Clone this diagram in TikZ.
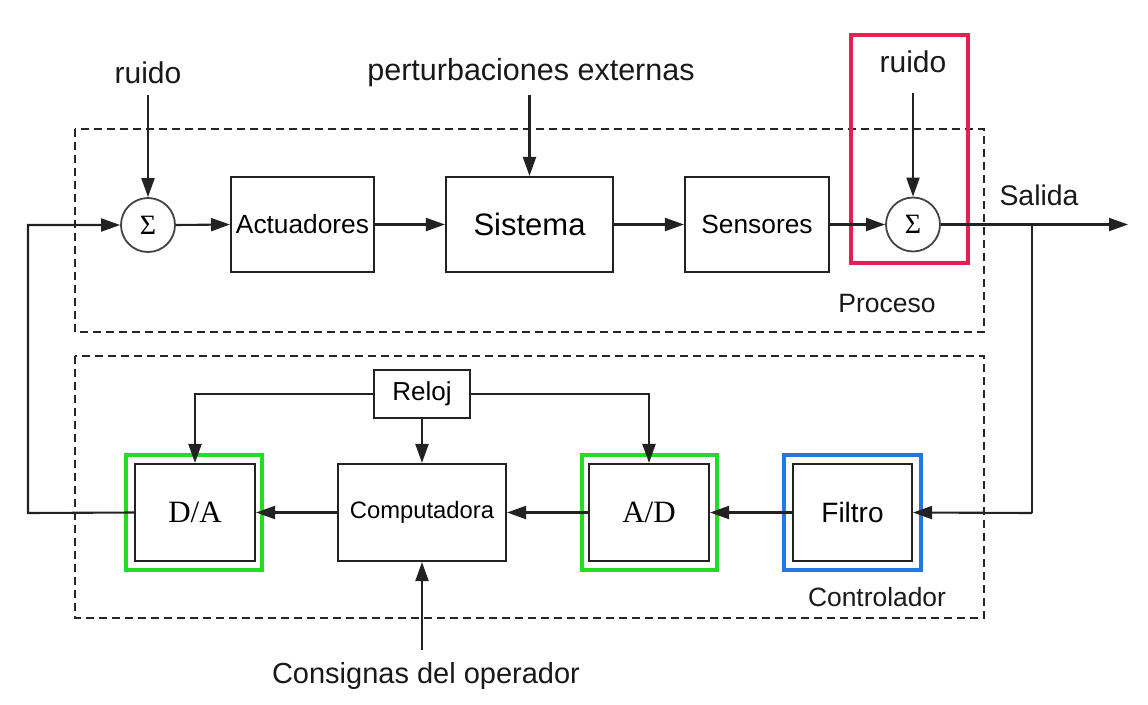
\documentclass[tikz,border=0pt]{standalone}
\usepackage{fontspec}
\setmainfont{Liberation Sans}
\newfontfamily\serifA{Liberation Serif}
\usetikzlibrary{arrows.meta}
\definecolor{hlred}{HTML}{E3204F}
\definecolor{hlgreen}{HTML}{22DD22}
\definecolor{hlblue}{HTML}{2078E0}
\definecolor{ln}{HTML}{222222}
\tikzset{
  x=1pt, y=-1pt,
  blk/.style={draw=ln, line width=2.1pt, rectangle, inner sep=0pt, align=center},
  sumnode/.style={draw=ln!85, line width=1.8pt, circle, minimum size=54pt, inner sep=0pt, font=\serifA\fontsize{28}{30}\selectfont},
  lbl/.style={inner sep=0pt, text=black!90},
  conn/.style={draw=ln, line width=2.1pt},
  arr/.style={conn, -{Triangle[length=19pt,width=13pt]}},
  dashbox/.style={draw=black!85, line width=1.5pt, dash pattern=on 8pt off 5pt},
}
\begin{document}
\begin{tikzpicture}
\useasboundingbox (0,0) rectangle (1148,704);
\fill[white] (0,0) rectangle (1148,704);

% dashed enclosures
\draw[dashbox] (75,129) rectangle (984,332);
\draw[dashbox] (75,356) rectangle (984,618);

% highlight frames
\draw[hlred, line width=3.8pt] (851,35) rectangle (968,263);
\draw[hlgreen, line width=4.2pt] (126,455) rectangle (262,570);
\draw[hlgreen, line width=4.2pt] (582,455) rectangle (717,570);
\draw[hlblue, line width=4.2pt] (784,455) rectangle (921,570);

% top row
\node[sumnode] (s1) at (148,225) {Σ};
\node[blk, minimum width=143pt, minimum height=95pt, font=\fontsize{26.3}{30}\selectfont] (act) at (302.5,224.5) {Actuadores};
\node[blk, minimum width=167pt, minimum height=95pt, font=\fontsize{31}{34}\selectfont] (sis) at (529.5,224.5) {Sistema};
\node[blk, minimum width=144pt, minimum height=95pt, font=\fontsize{26.3}{30}\selectfont] (sen) at (757,224.5) {Sensores};
\node[sumnode] (s2) at (913,224.5) {Σ};

\node[lbl, font=\fontsize{30}{34}\selectfont] (r1) at (148,73) {ruido};
\node[lbl, font=\fontsize{30.5}{34}\selectfont] (pert) at (531,73) {perturbaciones externas};
\node[lbl, font=\fontsize{30}{34}\selectfont] (r2) at (913,62) {ruido};
\node[lbl, font=\fontsize{28.4}{32}\selectfont] (sal) at (1039,195) {Salida};
\node[lbl, font=\fontsize{26.5}{30}\selectfont] (proc) at (887,304) {Proceso};

\coordinate (r1a) at (148,95);
\coordinate (pa) at (529.5,95);
\coordinate (r2a) at (913,93);
\coordinate (br) at (1032,224.5);
\coordinate (out) at (1128,224.5);
\coordinate (brd) at (1032,513);
\coordinate (fbl) at (28,513);
\coordinate (fbu) at (28,225);

\draw[arr] (r1a) -- (s1.north);
\draw[arr] (pa) -- (sis.north);
\draw[arr] (r2a) -- (s2.north);
\draw[arr] (s1.east) -- (act.west);
\draw[arr] (act.east) -- (sis.west);
\draw[arr] (sis.east) -- (sen.west);
\draw[arr] (sen.east) -- (s2.west);
\draw[arr] (s2.east) -- (out);

% bottom row
\node[blk, minimum width=120pt, minimum height=97pt, font=\serifA\fontsize{31}{34}\selectfont] (da) at (195,512.5) {D/A};
\node[blk, minimum width=168pt, minimum height=97pt, font=\fontsize{23.8}{28}\selectfont] (comp) at (422,512.5) {Computadora};
\node[blk, minimum width=120pt, minimum height=97pt, font=\serifA\fontsize{31}{34}\selectfont] (ad) at (649,512.5) {A/D};
\node[blk, minimum width=119pt, minimum height=97pt, font=\fontsize{28}{32}\selectfont] (fil) at (852.5,512.5) {Filtro};
\node[blk, minimum width=96pt, minimum height=48pt, font=\fontsize{26}{30}\selectfont] (rel) at (422,394) {Reloj};

\node[lbl, font=\fontsize{26.4}{30}\selectfont] (ctrl) at (877,597) {Controlador};
\node[lbl, font=\fontsize{29}{33}\selectfont] (cons) at (426,676) {Consignas del operador};
\coordinate (ca) at (422,650);

\draw[conn] (s2.east) -- (br) -- (brd);
\draw[arr] (brd) -- (fil.east);
\draw[arr] (fil.west) -- (ad.east);
\draw[arr] (ad.west) -- (comp.east);
\draw[arr] (comp.west) -- (da.east);
\draw[arr] (da.west) -- (fbl) -- (fbu) -- (s1.west);
\draw[arr] (rel.west) -| (da.north);
\draw[arr] (rel.east) -| (ad.north);
\draw[arr] (rel.south) -- (comp.north);
\draw[arr] (ca) -- (comp.south);
\end{tikzpicture}
\end{document}
